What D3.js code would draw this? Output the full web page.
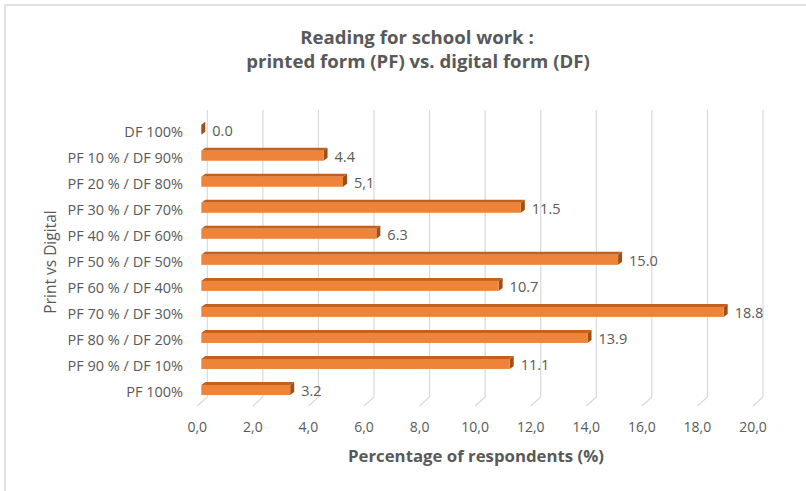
<!DOCTYPE html>
<html>
<head>
<meta charset="utf-8">
<script src="https://cdn.jsdelivr.net/npm/d3@7"></script>
<style>
  body { margin: 0; background: #fff; }
  text { font-family: "Open Sans", sans-serif; fill: #595959; }
</style>
</head>
<body>
<svg class="chart" width="806" height="491"></svg>
<script>
// categories top -> bottom, as in the picture
var categories = ["DF 100%", "PF 10 % / DF 90%", "PF 20 % / DF 80%", "PF 30 % / DF 70%",
  "PF 40 % / DF 60%", "PF 50 % / DF 50%", "PF 60 % / DF 40%", "PF 70 % / DF 30%",
  "PF 80 % / DF 20%", "PF 90 % / DF 10%", "PF 100%"];
var values = [0.0, 4.4, 5.1, 11.5, 6.3, 15.0, 10.7, 18.8, 13.9, 11.1, 3.2];
var valueLabels = ["0.0", "4.4", "5,1", "11.5", "6.3", "15.0", "10.7", "18.8", "13.9", "11.1", "3.2"];
var ticks = [0, 2, 4, 6, 8, 10, 12, 14, 16, 18, 20];

var svg = d3.select('.chart');

// chart frame
svg.append('rect').attr('x', 5).attr('y', 5).attr('width', 820).attr('height', 500)
  .attr('fill', 'none').attr('stroke', '#d9d9d9').attr('stroke-width', 1.5);

var x = d3.scaleLinear().domain([0, 20]).range([207.3, 763]); // back wall
var y = d3.scalePoint().domain(categories).range([129.7, 390]);
var front = -6, depth = 4, rise = 3, bh = 10;
var xf = function(v) { return x(v) + front; };

// gridlines with the little floor stroke
var grid = svg.append('g');
ticks.forEach(function(t) {
  grid.append('path')
    .attr('d', 'M' + x(t) + ',110 L' + x(t) + ',397 L' + (x(t) - 10) + ',406')
    .attr('fill', 'none').attr('stroke', '#d9d9d9').attr('stroke-width', 1.2);
});

svg.append('g').selectAll('text').data(ticks).enter().append('text')
  .attr('x', function(d) { return x(d) - 10; })
  .attr('y', 432)
  .attr('text-anchor', 'middle')
  .style('font-size', '14px')
  .text(function(d) { return d3.format('.1f')(d).replace('.', ','); });

// category labels
svg.append('g').selectAll('text').data(categories).enter().append('text')
  .attr('x', 183)
  .attr('y', function(d) { return y(d) + 7.3; })
  .attr('text-anchor', 'end')
  .style('font-size', '14.5px')
  .text(function(d) { return d; });

// bars (front, top, side faces)
var bars = svg.append('g').selectAll('g').data(values).enter().append('g');
bars.append('path')
  .attr('fill', '#c4601f')
  .attr('d', function(d, i) {
    var x0 = xf(0), x1 = xf(d), yt = y(categories[i]) - bh / 2;
    return 'M' + x0 + ',' + yt + 'L' + (x0 + depth) + ',' + (yt - rise) + 'L' + (x1 + depth) + ',' + (yt - rise) + 'L' + x1 + ',' + yt + 'Z';
  });
bars.append('path')
  .attr('fill', '#a14e17')
  .attr('d', function(d, i) {
    var x1 = xf(d), yt = y(categories[i]) - bh / 2;
    return 'M' + x1 + ',' + yt + 'L' + (x1 + depth) + ',' + (yt - rise) + 'L' + (x1 + depth) + ',' + (yt + bh - rise) + 'L' + x1 + ',' + (yt + bh) + 'Z';
  });
bars.append('rect')
  .attr('x', xf(0))
  .attr('y', function(d, i) { return y(categories[i]) - bh / 2; })
  .attr('width', function(d) { return xf(d) - xf(0); })
  .attr('height', bh)
  .attr('fill', '#ee843a');

// value labels
svg.append('g').selectAll('text').data(values).enter().append('text')
  .attr('x', function(d) { return xf(d) + 11; })
  .attr('y', function(d, i) { return y(categories[i]) + 6; })
  .style('font-size', '14.5px')
  .text(function(d, i) { return valueLabels[i]; });

// titles
svg.append('text').attr('x', 417).attr('y', 44).attr('text-anchor', 'middle')
  .style('font-size', '18.6px').style('font-weight', 'bold')
  .text('Reading for school work :');
svg.append('text').attr('x', 418).attr('y', 68).attr('text-anchor', 'middle')
  .style('font-size', '18.6px').style('font-weight', 'bold')
  .text('printed form (PF) vs. digital form (DF)');
svg.append('text').attr('x', 476).attr('y', 462).attr('text-anchor', 'middle')
  .style('font-size', '16.8px').style('font-weight', 'bold')
  .text('Percentage of respondents (%)');
svg.append('text').attr('transform', 'translate(56,262) rotate(-90)')
  .attr('text-anchor', 'middle')
  .style('font-size', '15.5px')
  .text('Print vs Digital');
</script>
</body>
</html>
